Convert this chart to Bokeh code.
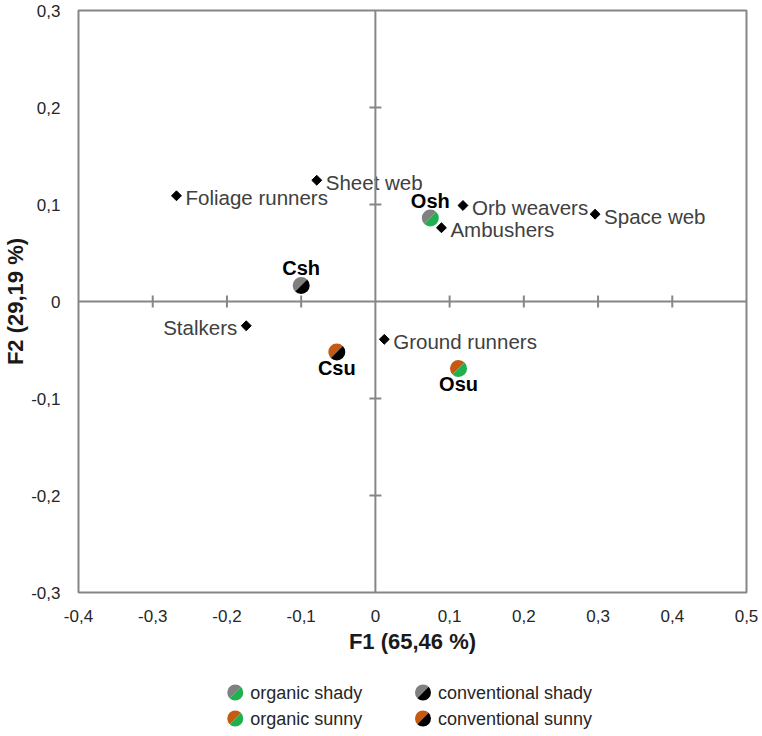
import math
from bokeh.plotting import figure
from bokeh.models import Range1d, Span, CustomJSTickFormatter, FixedTicker, ColumnDataSource
from bokeh.layouts import column
from bokeh.core.properties import value
from bokeh.embed import file_html
from bokeh.resources import INLINE

# ---------------- data ----------------
x_ticks = [-0.4, -0.3, -0.2, -0.1, 0.0, 0.1, 0.2, 0.3, 0.4, 0.5]
y_ticks = [-0.3, -0.2, -0.1, 0.0, 0.1, 0.2, 0.3]

guilds = ["Foliage runners", "Sheet web", "Orb weavers", "Space web",
          "Ambushers", "Stalkers", "Ground runners"]
guild_f1 = [-0.268, -0.079, 0.118, 0.296, 0.089, -0.174, 0.012]
guild_f2 = [0.109, 0.125, 0.099, 0.090, 0.076, -0.025, -0.039]

sites = ["Osh", "Csh", "Csu", "Osu"]
site_f1 = [0.074, -0.100, -0.052, 0.112]
site_f2 = [0.086, 0.0165, -0.052, -0.069]
site_left_col = ["#808080", "#808080", "#C55A11", "#C55A11"]
site_right_col = ["#1FB050", "#000000", "#000000", "#1FB050"]

legend_labels = ["organic shady", "organic sunny", "conventional shady", "conventional sunny"]
legend_left_col = ["#808080", "#C55A11", "#808080", "#C55A11"]
legend_right_col = ["#1FB050", "#1FB050", "#000000", "#000000"]

x_title = "F1 (65,46 %)"
y_title = "F2 (29,19 %)"

FONT = "Liberation Sans"
AX = "#868686"
W = 760
BL, BR = 77, 14          # frame borders (left/right)
FL, FR = BL, W - BR      # frame edges in page pixels

# ---------------- main figure ----------------
p = figure(width=W, height=660,
           x_range=Range1d(x_ticks[0], x_ticks[-1]),
           y_range=Range1d(y_ticks[0], y_ticks[-1]),
           output_backend="svg", toolbar_location=None,
           min_border_left=BL, min_border_right=BR,
           min_border_top=10, min_border_bottom=68)
p.grid.visible = False
p.outline_line_color = AX
p.outline_line_width = 2
p.background_fill_color = "white"
p.border_fill_color = "white"

fmt = CustomJSTickFormatter(code="return (Math.round(tick*10)/10).toString().replace('.', ',');")
for ax, ticks in ((p.xaxis, x_ticks), (p.yaxis, y_ticks)):
    ax.ticker = FixedTicker(ticks=ticks)
    ax.formatter = fmt
    ax.axis_line_color = None
    ax.major_tick_line_color = None
    ax.minor_tick_line_color = None
    ax.major_tick_in = 0
    ax.major_tick_out = 0
    ax.major_label_text_font = FONT
    ax.major_label_text_font_size = "17px"
    ax.major_label_text_color = "#262626"
    ax.axis_label_text_font = FONT
    ax.axis_label_text_font_size = "22px"
    ax.axis_label_text_font_style = "bold"
    ax.axis_label_text_color = "#1a1a1a"

p.xaxis.axis_label = x_title
p.yaxis.axis_label = y_title
p.xaxis.major_label_standoff = 17
p.xaxis.axis_label_standoff = 4
p.yaxis.major_label_standoff = 18
p.yaxis.axis_label_standoff = 0

# center axes
p.add_layout(Span(location=0, dimension="height", line_color=AX, line_width=2))
p.add_layout(Span(location=0, dimension="width", line_color=AX, line_width=2))
xt = [t for t in x_ticks[1:-1] if t != 0]
yt = [t for t in y_ticks[1:-1] if t != 0]
p.scatter(xt, [0] * len(xt), marker="dash", size=12, angle=math.pi / 2,
          line_color=AX, line_width=2)
p.scatter([0] * len(yt), yt, marker="dash", size=12,
          line_color=AX, line_width=2)

# guild diamonds and labels
p.scatter(guild_f1, guild_f2, marker="square", angle=math.pi / 4, size=7,
          fill_color="black", line_color="black")
right_idx = [i for i, g in enumerate(guilds) if g != "Stalkers"]
left_idx = [i for i, g in enumerate(guilds) if g == "Stalkers"]
p.text([guild_f1[i] for i in right_idx], [guild_f2[i] for i in right_idx],
       text=[guilds[i] for i in right_idx], x_offset=9, y_offset=2,
       text_align="left", text_baseline="middle",
       text_font=value(FONT), text_font_size="20.5px", text_color="#404040")
p.text([guild_f1[i] for i in left_idx], [guild_f2[i] for i in left_idx],
       text=[guilds[i] for i in left_idx], x_offset=-9, y_offset=2,
       text_align="right", text_baseline="middle",
       text_font=value(FONT), text_font_size="20.5px", text_color="#404040")

# site split circles
src = ColumnDataSource(dict(x=site_f1, y=site_f2, lc=site_left_col, rc=site_right_col, name=sites))
p.wedge("x", "y", source=src, radius=8.5, radius_units="screen",
        start_angle=math.pi / 4, end_angle=5 * math.pi / 4,
        fill_color="lc", line_color=None)
p.wedge("x", "y", source=src, radius=8.5, radius_units="screen",
        start_angle=5 * math.pi / 4, end_angle=9 * math.pi / 4,
        fill_color="rc", line_color=None)
above = [i for i, s in enumerate(sites) if s.endswith("sh")]
below = [i for i, s in enumerate(sites) if s.endswith("su")]
p.text([site_f1[i] for i in above], [site_f2[i] for i in above],
       text=[sites[i] for i in above], y_offset=-17,
       text_align="center", text_baseline="alphabetic",
       text_font=value(FONT), text_font_size="20px", text_font_style="bold",
       text_color="black")
p.text([site_f1[i] for i in below], [site_f2[i] for i in below],
       text=[sites[i] for i in below], y_offset=5,
       text_align="center", text_baseline="top",
       text_font=value(FONT), text_font_size="20px", text_font_style="bold",
       text_color="black")

# ---------------- legend figure (frame aligned with main frame) ----------------
LH = 74
leg = figure(width=W, height=LH, x_range=Range1d(FL, FR), y_range=Range1d(0, LH),
             x_axis_type=None, y_axis_type=None, output_backend="svg",
             toolbar_location=None, min_border=0,
             min_border_left=BL, min_border_right=BR)
leg.grid.visible = False
leg.outline_line_color = None
col_x = [234, 422]
row_y = [LH - 32, LH - 58]
lx = [col_x[i // 2] for i in range(4)]
ly = [row_y[i % 2] for i in range(4)]
leg.wedge(lx, ly, radius=8, radius_units="screen",
          start_angle=math.pi / 4, end_angle=5 * math.pi / 4,
          fill_color=legend_left_col, line_color=None)
leg.wedge(lx, ly, radius=8, radius_units="screen",
          start_angle=5 * math.pi / 4, end_angle=9 * math.pi / 4,
          fill_color=legend_right_col, line_color=None)
leg.text(lx, ly, text=legend_labels, x_offset=15, text_align="left",
         text_baseline="middle", text_font=value(FONT), text_font_size="18px",
         text_color="#262626")

layout = column(p, leg, spacing=0)
open("out.html", "w").write(file_html(layout, INLINE))
